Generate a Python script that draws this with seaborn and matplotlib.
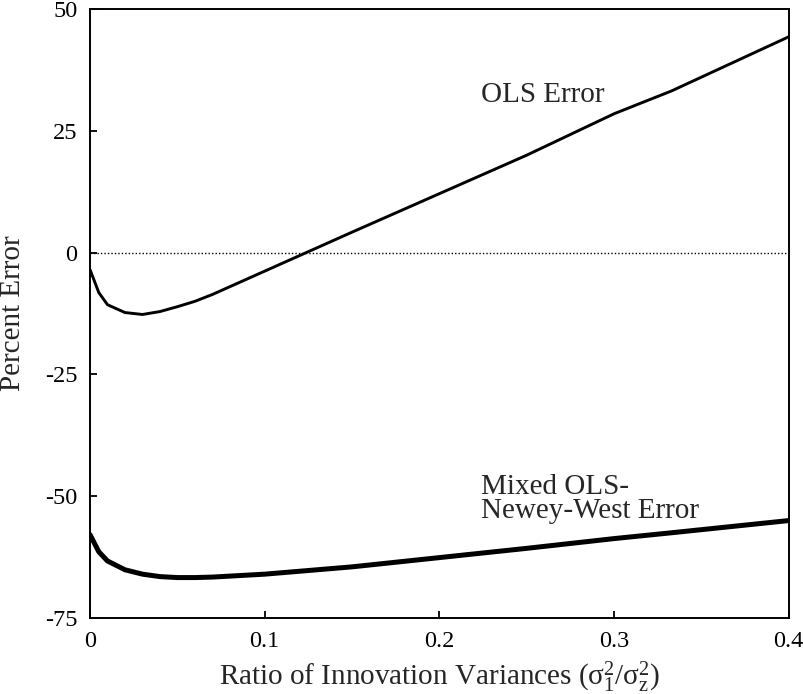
import matplotlib
matplotlib.use("Agg")
import matplotlib.pyplot as plt
import pandas as pd
import seaborn as sns

# values
ratio = [0, 0.005, 0.01, 0.02, 0.03, 0.04, 0.05, 0.06, 0.07, 0.1, 0.15, 0.2, 0.25, 0.3, 0.333, 0.4]
ols_error = [-3.5, -8.2, -10.7, -12.3, -12.7, -12.1, -11.1, -10.0, -8.6, -3.8, 4.2, 12.1, 20.0, 28.5, 33.2, 44.3]
mixed_error = [-57.9, -61.4, -63.3, -65.1, -66.0, -66.5, -66.7, -66.7, -66.6, -66.0, -64.5, -62.6, -60.7, -58.7, -57.5, -55.0]

x_ticks = [0, 0.1, 0.2, 0.3, 0.4]
x_tick_labels = ["0", "0.1", "0.2", "0.3", "0.4"]
y_ticks = [-75, -50, -25, 0, 25, 50]
y_tick_labels = ["-75", "-50", "-25", "0", "25", "50"]

sns.set_style("ticks")
plt.rcParams["font.family"] = ["Liberation Serif", "DejaVu Serif"]
plt.rcParams["mathtext.fontset"] = "custom"
plt.rcParams["mathtext.rm"] = "Liberation Serif"
plt.rcParams["mathtext.it"] = "Liberation Serif:italic"

df = pd.DataFrame({"ratio": ratio, "ols": ols_error, "mixed": mixed_error})

fig = plt.figure(figsize=(8.04, 6.94), dpi=100)
ax = fig.add_axes([0.112, 0.1095, 0.869, 0.8775])

ax.axhline(0, color="black", linestyle=(0, (1, 1.5)), linewidth=1.0)
sns.lineplot(data=df, x="ratio", y="ols", ax=ax, color="black", linewidth=2.1)
sns.lineplot(data=df, x="ratio", y="mixed", ax=ax, color="black", linewidth=3.6)

ax.set_xlim(0, 0.4)
ax.set_ylim(-75, 50)
ax.set_xticks(x_ticks)
ax.set_xticklabels(x_tick_labels)
ax.set_yticks(y_ticks)
ax.set_yticklabels(y_tick_labels)

for side in ["top", "right", "bottom", "left"]:
    ax.spines[side].set_visible(True)
    ax.spines[side].set_linewidth(1.4)
    ax.spines[side].set_color("black")

ax.tick_params(direction="in", length=5, width=1.3, labelsize=17.5, pad=9,
               top=False, right=False, colors="black")

ax.set_xlabel(r"Ratio of Innovation Variances ($\mathrm{σ_1^2/σ_z^2}$)", fontsize=21, labelpad=6)
ax.set_ylabel("Percent Error", fontsize=21, labelpad=14)

ax.text(0.259, 32.3, "OLS Error", fontsize=21, ha="center", va="center")
ax.text(0.224, -50.6, "Mixed OLS-\nNewey-West Error", fontsize=21,
        ha="left", va="center", linespacing=0.9)

fig.savefig("out.png", dpi=100)
